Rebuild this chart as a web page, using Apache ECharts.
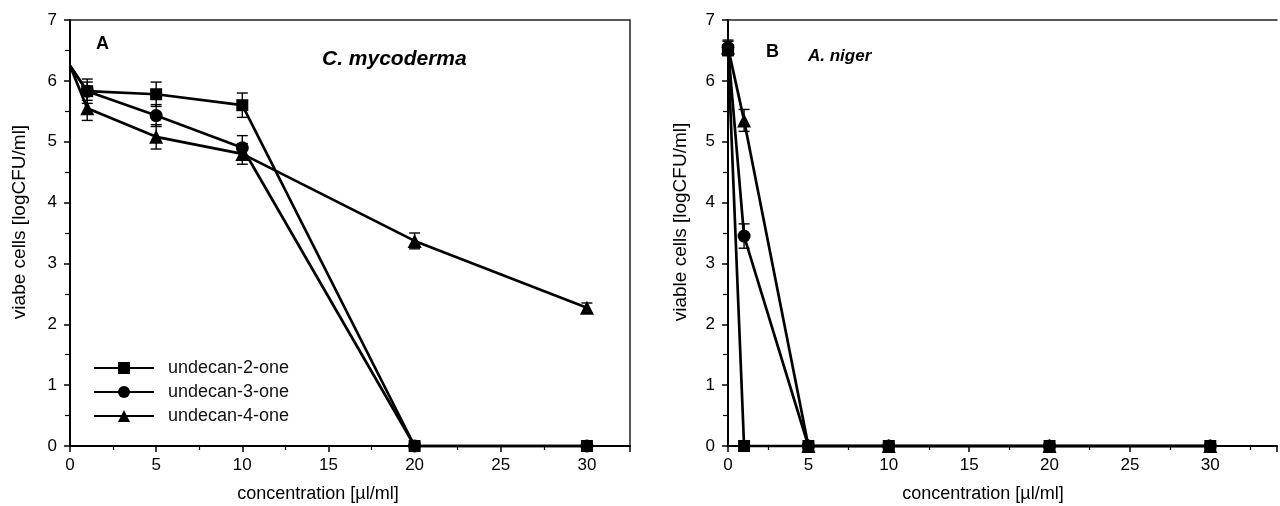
<!DOCTYPE html>
<html><head><meta charset="utf-8">
<script src="https://cdn.jsdelivr.net/npm/echarts@6/dist/echarts.min.js"></script>
<style>html,body{margin:0;padding:0;background:#fff}#c{width:1280px;height:506px}</style>
</head><body><div id="c"></div>
<script>
// ---- data ----
const seriesNames = ['undecan-2-one', 'undecan-3-one', 'undecan-4-one'];
const xA = [0, 1, 5, 10, 20, 30];
const a2 = [6.25, 5.83, 5.78, 5.60, 0, 0];
const a2err = [0, 0.2, 0.2, 0.2, 0, 0];
const a3 = [6.25, 5.83, 5.43, 4.90, 0, 0];
const a3err = [0, 0.15, 0.18, 0.2, 0, 0];
const a4 = [6.25, 5.55, 5.08, 4.80, 3.37, 2.27];
const a4err = [0, 0.2, 0.2, 0.17, 0.13, 0.08];
const xB = [0, 1, 5, 10, 20, 30];
const b2 = [6.5, 0, 0, 0, 0, 0];
const b2err = [0, 0, 0, 0, 0, 0];
const b3 = [6.55, 3.45, 0, 0, 0, 0];
const b3err = [0.1, 0.2, 0, 0, 0, 0];
const b4 = [6.55, 5.35, 0, 0, 0, 0];
const b4err = [0.12, 0.18, 0, 0, 0, 0];
const yTicks = [0, 1, 2, 3, 4, 5, 6, 7];
const xTicks = [0, 5, 10, 15, 20, 25, 30];

const symbols = ['rect', 'circle', 'triangle'];
const sizes = [12, 13, 14];
const FONT = 'Liberation Sans, Arial, sans-serif';

const chart = echarts.init(document.getElementById('c'));

function pts(xs, ys, hideFirst) {
  return xs.map((x, i) => (hideFirst && i === 0) ? {value: [x, ys[i]], symbol: 'none'} : [x, ys[i]]);
}
function errData(xs, ys, es) {
  const out = [];
  xs.forEach((x, i) => { if (es[i] > 0) out.push([x, ys[i] - es[i], ys[i] + es[i]]); });
  return out;
}
function errSeries(idx, data) {
  return {
    type: 'custom', xAxisIndex: idx, yAxisIndex: idx, z: 1, silent: true,
    renderItem: function (params, api) {
      const lo = api.coord([api.value(0), api.value(1)]);
      const hi = api.coord([api.value(0), api.value(2)]);
      const w = 5.5;
      const st = {stroke: '#000', lineWidth: 1.4};
      return {type: 'group', children: [
        {type: 'line', shape: {x1: lo[0], y1: lo[1], x2: hi[0], y2: hi[1]}, style: st},
        {type: 'line', shape: {x1: lo[0] - w, y1: lo[1], x2: lo[0] + w, y2: lo[1]}, style: st},
        {type: 'line', shape: {x1: hi[0] - w, y1: hi[1], x2: hi[0] + w, y2: hi[1]}, style: st}
      ]};
    },
    encode: {x: 0, y: [1, 2]},
    data: data
  };
}
function lineSeries(idx, k, data) {
  return {
    type: 'line', name: seriesNames[k], xAxisIndex: idx, yAxisIndex: idx,
    data: data, symbol: symbols[k], symbolSize: sizes[k], showAllSymbol: true,
    lineStyle: {color: '#000', width: 2.7}, itemStyle: {color: '#000'},
    z: 3, clip: false, animation: false
  };
}
function xAxis(idx, max) {
  return {
    type: 'value', gridIndex: idx, min: 0, max: max, interval: 5,
    axisLine: {onZero: false, lineStyle: {color: '#000', width: 2}},
    axisTick: {length: 6, lineStyle: {color: '#000', width: 1.5}},
    minorTick: {show: true, splitNumber: 2, length: 4, lineStyle: {color: '#000', width: 1.2}},
    splitLine: {show: false},
    axisLabel: {color: '#000', fontSize: 17, fontFamily: FONT, margin: 11,
      formatter: v => xTicks.includes(v) ? String(v) : ''}
  };
}
function yAxis(idx) {
  return {
    type: 'value', gridIndex: idx, min: 0, max: 7, interval: 1,
    axisLine: {show: true, lineStyle: {color: '#000', width: 2}},
    axisTick: {show: true, length: 6, lineStyle: {color: '#000', width: 1.5}},
    minorTick: {show: true, splitNumber: 2, length: 5, lineStyle: {color: '#000', width: 1.2}},
    splitLine: {show: false},
    axisLabel: {color: '#000', fontSize: 17, fontFamily: FONT, margin: 13,
      formatter: v => yTicks.includes(v) ? String(v) : ''}
  };
}

const topFrameB = {
  type: 'value', gridIndex: 1, position: 'top', min: 0, max: 34.15,
  axisLine: {show: true, onZero: false, lineStyle: {color: '#222', width: 1.5}},
  axisTick: {show: false}, axisLabel: {show: false}, splitLine: {show: false}
};

const option = {
  animation: false,
  backgroundColor: '#fff',
  grid: [
    {left: 70, top: 20, width: 560, bottom: 60, show: true, borderColor: '#222', borderWidth: 1.5},
    {left: 728, top: 20, width: 552, bottom: 60, show: false}
  ],
  xAxis: [xAxis(0, 32.5), xAxis(1, 34.15), topFrameB],
  yAxis: [yAxis(0), yAxis(1)],
  legend: {
    data: seriesNames, orient: 'vertical', left: 88, top: 354, itemGap: 6,
    itemWidth: 60, itemHeight: 15, selectedMode: false,
    textStyle: {color: '#111', fontSize: 18, fontFamily: FONT, padding: [0, 0, 0, 9]}
  },
  series: [
    errSeries(0, errData(xA, a2, a2err)),
    errSeries(0, errData(xA, a3, a3err)),
    errSeries(0, errData(xA, a4, a4err)),
    lineSeries(0, 0, pts(xA, a2, true)),
    lineSeries(0, 1, pts(xA, a3, true)),
    lineSeries(0, 2, pts(xA, a4, true)),
    errSeries(1, errData(xB, b2, b2err)),
    errSeries(1, errData(xB, b3, b3err)),
    errSeries(1, errData(xB, b4, b4err)),
    lineSeries(1, 0, pts(xB, b2, false)),
    lineSeries(1, 1, pts(xB, b3, false)),
    lineSeries(1, 2, pts(xB, b4, false))
  ],
  graphic: [
    {type: 'text', left: 96, top: 35, style: {text: 'A', font: 'bold 18px ' + FONT, fill: '#000'}},
    {type: 'text', left: 322, top: 49, style: {text: 'C. mycoderma', font: 'italic bold 21px ' + FONT, fill: '#000'}},
    {type: 'text', left: 766, top: 43, style: {text: 'B', font: 'bold 18px ' + FONT, fill: '#000'}},
    {type: 'text', left: 808, top: 48, style: {text: 'A. niger', font: 'italic bold 17px ' + FONT, fill: '#000'}},
    {type: 'text', x: 318, y: 494, style: {text: 'concentration [µl/ml]', font: '18px ' + FONT, fill: '#000', align: 'center', verticalAlign: 'middle'}},
    {type: 'text', x: 983, y: 494, style: {text: 'concentration [µl/ml]', font: '18px ' + FONT, fill: '#000', align: 'center', verticalAlign: 'middle'}},
    {type: 'text', x: 20, y: 222, rotation: Math.PI / 2, style: {text: 'viabe cells [logCFU/ml]', font: '19px ' + FONT, fill: '#000', align: 'center', verticalAlign: 'middle'}},
    {type: 'text', x: 681, y: 222, rotation: Math.PI / 2, style: {text: 'viable cells [logCFU/ml]', font: '19px ' + FONT, fill: '#000', align: 'center', verticalAlign: 'middle'}}
  ]
};
chart.setOption(option);
</script></body></html>
